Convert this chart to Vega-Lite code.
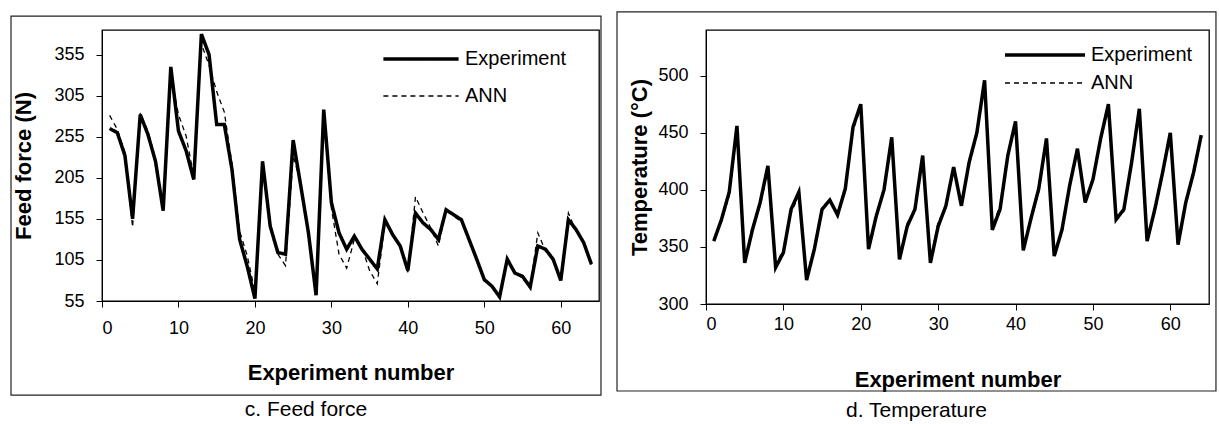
{
  "$schema": "https://vega.github.io/schema/vega-lite/v6.json",
  "padding": {"left": 9, "top": 10, "right": 5, "bottom": 5},
  "background": "white",
  "spacing": 12,
  "datasets": {
    "force": [
      {"n":1,"Experiment":265,"ANN":281},{"n":2,"Experiment":260,"ANN":264},{"n":3,"Experiment":232,"ANN":236},{"n":4,"Experiment":155,"ANN":145},
      {"n":5,"Experiment":282,"ANN":284},{"n":6,"Experiment":258,"ANN":262},{"n":7,"Experiment":225,"ANN":228},{"n":8,"Experiment":165,"ANN":168},
      {"n":9,"Experiment":340,"ANN":330},{"n":10,"Experiment":262,"ANN":282},{"n":11,"Experiment":238,"ANN":256},{"n":12,"Experiment":203,"ANN":207},
      {"n":13,"Experiment":380,"ANN":368},{"n":14,"Experiment":355,"ANN":342},{"n":15,"Experiment":270,"ANN":310},{"n":16,"Experiment":270,"ANN":285},
      {"n":17,"Experiment":215,"ANN":222},{"n":18,"Experiment":130,"ANN":140},{"n":19,"Experiment":97,"ANN":110},{"n":20,"Experiment":58,"ANN":66},
      {"n":21,"Experiment":225,"ANN":215},{"n":22,"Experiment":146,"ANN":150},{"n":23,"Experiment":114,"ANN":112},{"n":24,"Experiment":112,"ANN":98},
      {"n":25,"Experiment":251,"ANN":232},{"n":26,"Experiment":195,"ANN":198},{"n":27,"Experiment":138,"ANN":140},{"n":28,"Experiment":62,"ANN":66},
      {"n":29,"Experiment":288,"ANN":282},{"n":30,"Experiment":175,"ANN":168},{"n":31,"Experiment":138,"ANN":112},{"n":32,"Experiment":118,"ANN":95},
      {"n":33,"Experiment":134,"ANN":130},{"n":34,"Experiment":118,"ANN":120},{"n":35,"Experiment":106,"ANN":92},{"n":36,"Experiment":94,"ANN":76},
      {"n":37,"Experiment":154,"ANN":150},{"n":38,"Experiment":136,"ANN":138},{"n":39,"Experiment":122,"ANN":122},{"n":40,"Experiment":92,"ANN":90},
      {"n":41,"Experiment":162,"ANN":182},{"n":42,"Experiment":150,"ANN":162},{"n":43,"Experiment":142,"ANN":144},{"n":44,"Experiment":130,"ANN":122},
      {"n":45,"Experiment":166,"ANN":166},{"n":46,"Experiment":160,"ANN":158},{"n":47,"Experiment":154,"ANN":152},{"n":48,"Experiment":130,"ANN":130},
      {"n":49,"Experiment":106,"ANN":104},{"n":50,"Experiment":81,"ANN":82},{"n":51,"Experiment":73,"ANN":74},{"n":52,"Experiment":60,"ANN":62},
      {"n":53,"Experiment":106,"ANN":104},{"n":54,"Experiment":89,"ANN":92},{"n":55,"Experiment":85,"ANN":82},{"n":56,"Experiment":72,"ANN":72},
      {"n":57,"Experiment":122,"ANN":138},{"n":58,"Experiment":118,"ANN":116},{"n":59,"Experiment":106,"ANN":104},{"n":60,"Experiment":80,"ANN":82},
      {"n":61,"Experiment":154,"ANN":162},{"n":62,"Experiment":142,"ANN":140},{"n":63,"Experiment":126,"ANN":128},{"n":64,"Experiment":100,"ANN":98}
    ],
    "temp": [
      {"n":1,"Experiment":355,"ANN":356},{"n":2,"Experiment":374,"ANN":372},{"n":3,"Experiment":398,"ANN":395},{"n":4,"Experiment":456,"ANN":452},
      {"n":5,"Experiment":336,"ANN":338},{"n":6,"Experiment":365,"ANN":368},{"n":7,"Experiment":389,"ANN":386},{"n":8,"Experiment":421,"ANN":418},
      {"n":9,"Experiment":332,"ANN":334},{"n":10,"Experiment":345,"ANN":348},{"n":11,"Experiment":383,"ANN":380},{"n":12,"Experiment":398,"ANN":395},
      {"n":13,"Experiment":321,"ANN":323},{"n":14,"Experiment":348,"ANN":350},{"n":15,"Experiment":383,"ANN":385},{"n":16,"Experiment":391,"ANN":390},
      {"n":17,"Experiment":378,"ANN":380},{"n":18,"Experiment":401,"ANN":398},{"n":19,"Experiment":455,"ANN":452},{"n":20,"Experiment":475,"ANN":472},
      {"n":21,"Experiment":348,"ANN":350},{"n":22,"Experiment":377,"ANN":379},{"n":23,"Experiment":400,"ANN":398},{"n":24,"Experiment":446,"ANN":444},
      {"n":25,"Experiment":339,"ANN":340},{"n":26,"Experiment":368,"ANN":371},{"n":27,"Experiment":383,"ANN":381},{"n":28,"Experiment":430,"ANN":428},
      {"n":29,"Experiment":336,"ANN":338},{"n":30,"Experiment":368,"ANN":372},{"n":31,"Experiment":386,"ANN":384},{"n":32,"Experiment":420,"ANN":417},
      {"n":33,"Experiment":386,"ANN":388},{"n":34,"Experiment":424,"ANN":422},{"n":35,"Experiment":450,"ANN":448},{"n":36,"Experiment":496,"ANN":492},
      {"n":37,"Experiment":365,"ANN":368},{"n":38,"Experiment":383,"ANN":386},{"n":39,"Experiment":430,"ANN":428},{"n":40,"Experiment":460,"ANN":457},
      {"n":41,"Experiment":347,"ANN":350},{"n":42,"Experiment":375,"ANN":373},{"n":43,"Experiment":401,"ANN":398},{"n":44,"Experiment":445,"ANN":443},
      {"n":45,"Experiment":342,"ANN":345},{"n":46,"Experiment":365,"ANN":362},{"n":47,"Experiment":404,"ANN":402},{"n":48,"Experiment":436,"ANN":434},
      {"n":49,"Experiment":389,"ANN":391},{"n":50,"Experiment":409,"ANN":407},{"n":51,"Experiment":445,"ANN":443},{"n":52,"Experiment":475,"ANN":472},
      {"n":53,"Experiment":374,"ANN":377},{"n":54,"Experiment":383,"ANN":381},{"n":55,"Experiment":424,"ANN":422},{"n":56,"Experiment":471,"ANN":468},
      {"n":57,"Experiment":355,"ANN":358},{"n":58,"Experiment":383,"ANN":380},{"n":59,"Experiment":415,"ANN":413},{"n":60,"Experiment":450,"ANN":448},
      {"n":61,"Experiment":352,"ANN":355},{"n":62,"Experiment":389,"ANN":387},{"n":63,"Experiment":415,"ANN":413},{"n":64,"Experiment":448,"ANN":446}
    ]
  },
  "resolve": {
    "scale": {"strokeDash": "independent", "strokeWidth": "independent", "x": "independent", "y": "independent"},
    "legend": {"strokeDash": "independent", "strokeWidth": "independent"}
  },
  "hconcat": [
    {
      "width": 497,
      "height": 271,
      "title": {"text": "c. Feed force", "orient": "bottom", "fontSize": 21, "fontWeight": "normal", "offset": 3, "frame": "bounds", "anchor": "middle"},
      "layer": [
        {
          "data": {"values": [{}]},
          "mark": {"type": "rect", "fill": "white", "fillOpacity": 0, "stroke": "#222", "strokeWidth": 1.2},
          "encoding": {
            "x": {"datum": -11.9, "type": "quantitative", "scale": {"domain": [0, 65], "nice": false, "zero": false},
                  "axis": {"title": "Experiment number", "values": [0,10,20,30,40,50,60], "labelPadding": 12, "titlePadding": 25}},
            "x2": {"datum": 65.26},
            "y": {"datum": 402, "type": "quantitative", "scale": {"domain": [55, 385], "nice": false, "zero": false},
                  "axis": {"title": "Feed force (N)", "values": [55,105,155,205,255,305,355], "labelPadding": 12, "titlePadding": 18}},
            "y2": {"datum": -59.5}
          }
        },
        {
          "data": {"name": "force"},
          "transform": [{"fold": ["ANN", "Experiment"], "as": ["series", "value"]}],
          "mark": {"type": "line", "color": "black"},
          "encoding": {
            "x": {"field": "n", "type": "quantitative", "scale": {"domain": [0, 65], "nice": false, "zero": false},
                  "axis": {"title": "Experiment number", "values": [0,10,20,30,40,50,60], "labelPadding": 12, "titlePadding": 25}},
            "y": {"field": "value", "type": "quantitative", "scale": {"domain": [55, 385], "nice": false, "zero": false},
                  "axis": {"title": "Feed force (N)", "values": [55,105,155,205,255,305,355], "labelPadding": 12, "titlePadding": 18}},
            "strokeDash": {"field": "series", "type": "nominal", "scale": {"domain": ["Experiment", "ANN"], "range": [[1, 0], [5, 4]]},
                  "legend": {"title": null, "orient": "none", "legendX": 309, "legendY": 19, "symbolType": "M-4.7,0H4.7", "symbolSize": 256, "labelOffset": 34, "rowPadding": 17}},
            "strokeWidth": {"field": "series", "type": "nominal", "scale": {"domain": ["Experiment", "ANN"], "range": [3.5, 1.3]},
                  "legend": {"title": null, "orient": "none", "legendX": 309, "legendY": 19, "symbolType": "M-4.7,0H4.7", "symbolSize": 256, "labelOffset": 34, "rowPadding": 17}}
          }
        }
      ]
    },
    {
      "width": 503,
      "height": 274,
      "title": {"text": "d. Temperature", "orient": "bottom", "fontSize": 21, "fontWeight": "normal", "offset": 8, "frame": "bounds", "anchor": "middle"},
      "layer": [
        {
          "data": {"values": [{}]},
          "mark": {"type": "rect", "fill": "white", "fillOpacity": 0, "stroke": "#222", "strokeWidth": 1.2},
          "encoding": {
            "x": {"datum": -11.5, "type": "quantitative", "scale": {"domain": [0, 65], "nice": false, "zero": false},
                  "axis": {"title": "Experiment number", "values": [0,10,20,30,40,50,60], "labelPadding": 5, "titlePadding": 36}},
            "x2": {"datum": 65.9},
            "y": {"datum": 555.8, "type": "quantitative", "scale": {"domain": [300, 540], "nice": false, "zero": false},
                  "axis": {"title": "Temperature (°C)", "values": [300,350,400,450,500], "labelPadding": 12, "titlePadding": 6}},
            "y2": {"datum": 223.8}
          }
        },
        {
          "data": {"name": "temp"},
          "transform": [{"fold": ["ANN", "Experiment"], "as": ["series", "value"]}],
          "mark": {"type": "line", "color": "black"},
          "encoding": {
            "x": {"field": "n", "type": "quantitative", "scale": {"domain": [0, 65], "nice": false, "zero": false},
                  "axis": {"title": "Experiment number", "values": [0,10,20,30,40,50,60], "labelPadding": 5, "titlePadding": 36}},
            "y": {"field": "value", "type": "quantitative", "scale": {"domain": [300, 540], "nice": false, "zero": false},
                  "axis": {"title": "Temperature (°C)", "values": [300,350,400,450,500], "labelPadding": 12, "titlePadding": 6}},
            "strokeDash": {"field": "series", "type": "nominal", "scale": {"domain": ["Experiment", "ANN"], "range": [[1, 0], [5, 4]]},
                  "legend": {"title": null, "orient": "none", "legendX": 329, "legendY": 15, "symbolType": "M-5,0H5", "symbolSize": 256, "labelOffset": 36, "rowPadding": 8}},
            "strokeWidth": {"field": "series", "type": "nominal", "scale": {"domain": ["Experiment", "ANN"], "range": [3.5, 1.3]},
                  "legend": {"title": null, "orient": "none", "legendX": 329, "legendY": 15, "symbolType": "M-5,0H5", "symbolSize": 256, "labelOffset": 36, "rowPadding": 8}}
          }
        }
      ]
    }
  ],
  "config": {
    "font": "Liberation Sans",
    "view": {"stroke": "black", "strokeWidth": 1.3},
    "axis": {"grid": false, "domainColor": "black", "tickColor": "black", "labelColor": "black", "titleColor": "black",
             "labelFontSize": 18, "titleFontSize": 22, "titleFontWeight": "bold", "tickSize": 6, "labelFont": "Liberation Sans", "titleFont": "Liberation Sans"},
    "legend": {"labelFontSize": 20, "labelFont": "Liberation Sans", "labelColor": "black", "symbolStrokeColor": "black", "padding": 0, "symbolFillColor": "transparent"},
    "title": {"color": "black", "font": "Liberation Sans"}
  }
}
